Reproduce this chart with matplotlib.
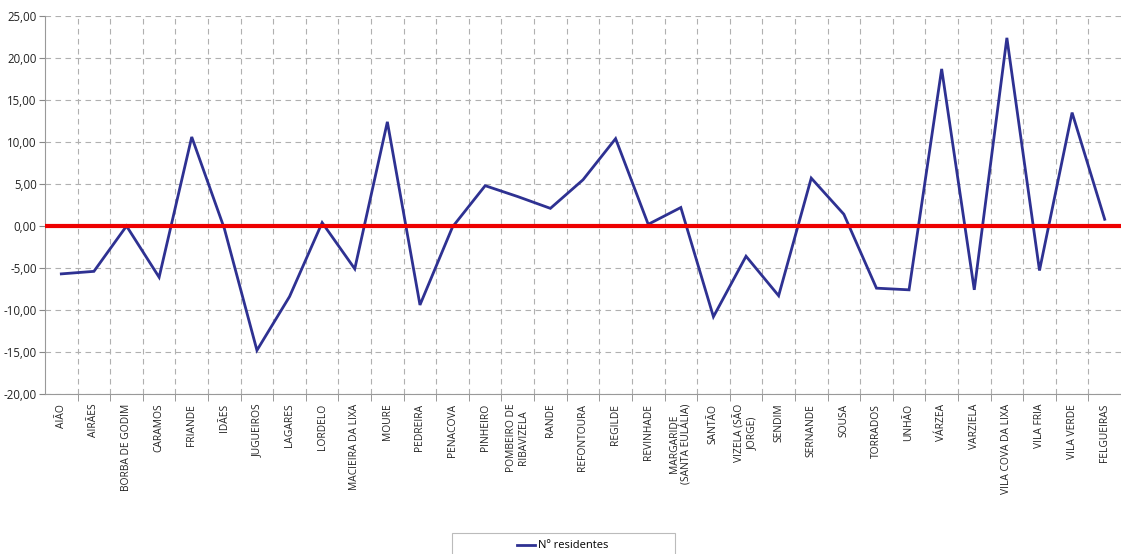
import numpy as np
import matplotlib
matplotlib.use("Agg")
import matplotlib.pyplot as plt
from matplotlib.patches import Rectangle
from matplotlib.ticker import FuncFormatter, FixedLocator

plt.rcParams['font.family'] = ['Open Sans', 'DejaVu Sans']

freguesias = ["AIÃO", "AIRÃES", "BORBA DE GODIM", "CARAMOS", "FRIANDE", "IDÃES",
              "JUGUEIROS", "LAGARES", "LORDELO", "MACIEIRA DA LIXA", "MOURE",
              "PEDREIRA", "PENACOVA", "PINHEIRO", "POMBEIRO DE\nRIBAVIZELA", "RANDE",
              "REFONTOURA", "REGILDE", "REVINHADE", "MARGARIDE\n(SANTA EULÁLIA)",
              "SANTÃO", "VIZELA (SÃO\nJORGE)", "SENDIM", "SERNANDE", "SOUSA",
              "TORRADOS", "UNHÃO", "VÁRZEA", "VARZIELA", "VILA COVA DA LIXA",
              "VILA FRIA", "VILA VERDE", "FELGUEIRAS"]
residentes = [-5.7, -5.4, 0.0, -6.1, 10.6, -0.3,
              -14.8, -8.4, 0.4, -5.1, 12.4,
              -9.4, -0.1, 4.8, 3.5, 2.1,
              5.5, 10.4, 0.2, 2.2,
              -10.8, -3.6, -8.3, 5.7, 1.4,
              -7.4, -7.6, 18.7, -7.6, 22.4,
              -5.3, 13.5, 0.8]

fig = plt.figure(figsize=(11.21, 5.54), dpi=100)
ax = fig.add_axes([45 / 1121, 1 - 394 / 554, 1076 / 1121, 378 / 554])

x = np.arange(len(freguesias))
ax.plot(x, residentes, color="#2E3192", lw=2.0, solid_joinstyle="miter",
        label="Nº residentes", zorder=3)
ax.axhline(0, color="#EE0000", lw=3.0, zorder=4)

ax.set_xlim(-0.5, len(freguesias) - 0.5)
ax.set_ylim(-20, 25)
ax.set_yticks(np.arange(-20, 26, 5))
ax.yaxis.set_major_formatter(FuncFormatter(lambda v, p: f"{v:.2f}".replace(".", ",")))
ax.tick_params(axis="y", labelsize=8.3, length=4, color="#888888", pad=2,
               labelcolor="#222222")

# category labels at centres, ticks/grid at boundaries
ax.set_xticks(x)
ax.set_xticklabels(freguesias, rotation=90, fontsize=7.4, va="top", ha="center",
                   linespacing=1.15, color="#222222")
ax.tick_params(axis="x", length=0, pad=7)
ax.xaxis.set_minor_locator(FixedLocator(np.arange(0.5, len(freguesias) - 0.5, 1)))
ax.tick_params(axis="x", which="minor", length=5, color="#888888")

ax.grid(axis="y", which="major", ls=(0, (5, 4)), color="#B0B0B0", lw=0.8)
ax.grid(axis="x", which="minor", ls=(0, (5, 4)), color="#B0B0B0", lw=0.8)
ax.grid(axis="x", which="major", visible=False)

for s in ["top", "right"]:
    ax.spines[s].set_visible(False)
ax.spines["left"].set_color("#999999")
ax.spines["bottom"].set_color("#999999")

# legend box, cut by the bottom edge as in the original
fig.patches.append(Rectangle((452 / 1121, -0.02), 223 / 1121, 1 - 533 / 554 + 0.02,
                             transform=fig.transFigure, fill=False,
                             edgecolor="#BBBBBB", lw=0.8))
fig.legend(loc="center", bbox_to_anchor=(563 / 1121, 1 - 546 / 554), frameon=False,
           fontsize=8, handlelength=1.6, handletextpad=0.3)

fig.savefig("out.png", dpi=100)
